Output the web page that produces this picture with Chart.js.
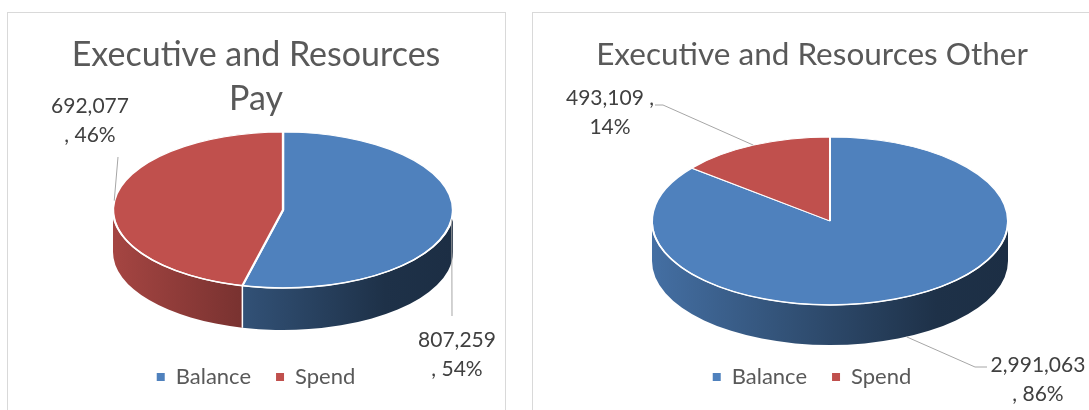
<!DOCTYPE html>
<html>
<head>
<meta charset="utf-8">
<script src="https://cdn.jsdelivr.net/npm/chart.js@4"></script>
<style>
  body { margin: 0; background: #fff; width: 1089px; height: 410px; overflow: hidden; position: relative; }
  .panel { position: absolute; border: 1px solid #d9d9d9; background: #fff; }
  canvas { position: absolute; }
</style>
</head>
<body>
<div class="panel" style="left:7px;top:12px;width:497px;height:420px"></div>
<div class="panel" style="left:532px;top:12px;width:580px;height:420px"></div>
<canvas id="payChart" style="left:8px;top:13px" width="496" height="397"></canvas>
<canvas id="otherChart" style="left:533px;top:13px" width="558" height="397"></canvas>
<script>
// data
const categories = ['Balance', 'Spend'];
const payValues = [807259, 692077];
const otherValues = [2991063, 493109];
const sliceColors = ['#4F81BD', '#C0504D'];

// darken a hex colour by factor f
function shade(hex, f) {
  const n = parseInt(hex.slice(1), 16);
  const r = Math.round(((n >> 16) & 255) * f);
  const g = Math.round(((n >> 8) & 255) * f);
  const b = Math.round((n & 255) * f);
  return `rgb(${r},${g},${b})`;
}

// squash the pie into an ellipse and give it a side wall
const pie3d = {
  id: 'pie3d',
  beforeDatasetsDraw(chart, args, opts) {
    const ctx = chart.ctx;
    const arcs = chart.getDatasetMeta(0).data;
    const {cx, cy, rx, ry, depth} = opts;
    chart.$pie = opts;

    arcs.forEach((arc, i) => {
      const {startAngle, endAngle} = arc.getProps(['startAngle', 'endAngle'], true);
      const base = arc.options.backgroundColor;
      const grad = ctx.createLinearGradient(cx - rx, 0, cx + rx, 0);
      grad.addColorStop(0, shade(base, 0.86));
      grad.addColorStop(0.36, shade(base, 0.64));
      grad.addColorStop(0.8, shade(base, 0.38));
      grad.addColorStop(1, shade(base, 0.36));
      for (let k = -1; k <= 1; k++) {
        const lo = Math.max(startAngle, k * 2 * Math.PI);
        const hi = Math.min(endAngle, k * 2 * Math.PI + Math.PI);
        if (hi <= lo) continue;
        ctx.save();
        ctx.beginPath();
        ctx.ellipse(cx, cy, rx, ry, 0, lo, hi);
        ctx.ellipse(cx, cy + depth, rx, ry, 0, hi, lo, true);
        ctx.closePath();
        ctx.fillStyle = grad;
        ctx.fill();
        ctx.restore();
      }
    });

    // seams between slices on the front wall
    ctx.save();
    ctx.strokeStyle = '#fff';
    ctx.lineWidth = 1.5;
    arcs.forEach(arc => {
      const {startAngle} = arc.getProps(['startAngle'], true);
      const a = ((startAngle % (2 * Math.PI)) + 2 * Math.PI) % (2 * Math.PI);
      if (a > 0.01 && a < Math.PI - 0.01) {
        const x = cx + rx * Math.cos(a);
        const y = cy + ry * Math.sin(a);
        ctx.beginPath();
        ctx.moveTo(x, y);
        ctx.lineTo(x, y + depth);
        ctx.stroke();
      }
    });
    ctx.restore();

    const {x, y, outerRadius} = arcs[0].getProps(['x', 'y', 'outerRadius'], true);
    ctx.save();
    ctx.translate(cx, cy);
    ctx.scale(rx / outerRadius, ry / outerRadius);
    ctx.translate(-x, -y);
  },
  afterDatasetsDraw(chart, args, opts) {
    const ctx = chart.ctx;
    ctx.restore();
    ctx.save();
    ctx.strokeStyle = '#fff';
    ctx.lineWidth = 1.5;
    ctx.beginPath();
    ctx.ellipse(opts.cx, opts.cy, opts.rx, opts.ry, 0, 0, Math.PI);
    ctx.stroke();
    ctx.restore();
  }
};

// "value, pct%" labels with leader lines
const sliceLabels = {
  id: 'sliceLabels',
  afterDraw(chart, args, opts) {
    const ctx = chart.ctx;
    const geo = chart.$pie;
    const values = chart.data.datasets[0].data;
    const total = values.reduce((a, b) => a + b, 0);
    chart.getDatasetMeta(0).data.forEach((arc, i) => {
      const spec = opts.items[i];
      const {startAngle, endAngle} = arc.getProps(['startAngle', 'endAngle'], true);
      const mid = (startAngle + endAngle) / 2;
      const px = geo.cx + geo.rx * Math.cos(mid);
      const py = geo.cy + geo.ry * Math.sin(mid) + (spec.side ? geo.depth : 0);
      ctx.save();
      ctx.strokeStyle = '#a6a6a6';
      ctx.lineWidth = 1;
      ctx.beginPath();
      ctx.moveTo(px, py);
      spec.leader.forEach(([lx, ly]) => ctx.lineTo(lx, ly));
      ctx.stroke();

      const num = values[i].toLocaleString('en-US');
      const pct = Math.round(values[i] / total * 100) + '%';
      const lines = spec.commaFirst ? [num + ' ,', pct] : [num, ', ' + pct];
      ctx.fillStyle = '#404040';
      ctx.font = '21px Lato';
      ctx.textAlign = 'center';
      ctx.textBaseline = 'alphabetic';
      lines.forEach((t, k) => ctx.fillText(t, spec.x, spec.y + k * 29));
      ctx.restore();
    });
  }
};

function makePie(id, values, title, titleSize, titleTop, geo, labels) {
  new Chart(document.getElementById(id), {
    type: 'pie',
    data: {
      labels: categories,
      datasets: [{
        data: values,
        backgroundColor: sliceColors,
        borderColor: '#fff',
        borderWidth: 1.5,
        clip: false
      }]
    },
    options: {
      responsive: false,
      animation: false,
      events: [],
      layout: { padding: { bottom: 12 } },
      plugins: {
        title: {
          display: true,
          text: title,
          color: '#595959',
          font: { family: 'Lato', size: titleSize, weight: 'normal', lineHeight: 1.3 },
          padding: { top: titleTop, bottom: 0 }
        },
        legend: {
          position: 'bottom',
          labels: {
            boxWidth: 8,
            boxHeight: 8,
            padding: 25,
            color: '#595959',
            font: { family: 'Lato', size: 22 },
            generateLabels: chart => Chart.overrides.pie.plugins.legend.labels
              .generateLabels(chart).map(l => ({ ...l, lineWidth: 0 }))
          }
        },
        tooltip: { enabled: false },
        pie3d: geo,
        sliceLabels: { items: labels }
      }
    },
    plugins: [pie3d, sliceLabels]
  });
}

makePie('payChart', payValues, ['Executive and Resources', 'Pay'], 34, 20,
  { cx: 275, cy: 197, rx: 170, ry: 78, depth: 42 },
  [
    { x: 449, y: 334, leader: [[444, 303]] },
    { x: 82, y: 100, leader: [[110, 144]] }
  ]);

makePie('otherChart', otherValues, 'Executive and Resources Other', 31.5, 21,
  { cx: 297, cy: 208, rx: 178, ry: 84, depth: 40 },
  [
    { x: 505, y: 359, side: true, leader: [[442, 354], [454, 354]] },
    { x: 77, y: 92, commaFirst: true, leader: [[130, 92], [122, 92]] }
  ]);
</script>
</body>
</html>
